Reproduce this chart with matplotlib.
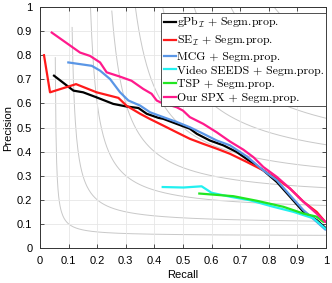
import matplotlib
matplotlib.use('Agg')
import matplotlib.pyplot as plt
import numpy as np

plt.rcParams.update({
    "font.family": "Liberation Sans",
    "mathtext.fontset": "cm",
})

# recall / precision
gpb_r = [0.049, 0.117, 0.151, 0.198, 0.256, 0.303, 0.344, 0.373, 0.414, 0.431, 0.478, 0.524, 0.548, 0.594, 0.641, 0.688, 0.734, 0.781, 0.828, 0.874, 0.921, 0.967, 1.0]
gpb_p = [0.715, 0.653, 0.646, 0.625, 0.598, 0.587, 0.581, 0.557, 0.540, 0.536, 0.515, 0.495, 0.474, 0.446, 0.426, 0.398, 0.360, 0.322, 0.274, 0.213, 0.150, 0.116, 0.081]

se_r = [0.014, 0.035, 0.126, 0.198, 0.274, 0.303, 0.350, 0.385, 0.431, 0.478, 0.524, 0.571, 0.618, 0.664, 0.723, 0.781, 0.828, 0.874, 0.921, 0.967, 0.997]
se_p = [0.800, 0.646, 0.680, 0.646, 0.623, 0.590, 0.557, 0.535, 0.508, 0.480, 0.453, 0.432, 0.412, 0.391, 0.357, 0.322, 0.288, 0.247, 0.192, 0.150, 0.109]

mcg_r = [0.099, 0.181, 0.210, 0.245, 0.280, 0.309, 0.350, 0.385, 0.431, 0.478, 0.524, 0.571, 0.618, 0.664, 0.723, 0.781, 0.828, 0.874, 0.921, 0.967, 0.997]
mcg_p = [0.770, 0.756, 0.736, 0.701, 0.646, 0.612, 0.591, 0.563, 0.543, 0.523, 0.501, 0.474, 0.446, 0.426, 0.380, 0.322, 0.281, 0.219, 0.157, 0.109, 0.077]

seeds_r = [0.429, 0.501, 0.565, 0.600, 0.664, 0.734, 0.816, 0.886, 0.956, 0.997]
seeds_p = [0.253, 0.251, 0.256, 0.229, 0.213, 0.198, 0.171, 0.150, 0.123, 0.081]

tsp_r = [0.557, 0.676, 0.758, 0.851, 0.921, 0.967, 0.990]
tsp_p = [0.226, 0.215, 0.196, 0.171, 0.143, 0.130, 0.109]

spx_r = [0.041, 0.140, 0.175, 0.210, 0.233, 0.280, 0.320, 0.361, 0.390, 0.408, 0.420, 0.478, 0.500, 0.524, 0.571, 0.618, 0.664, 0.711, 0.746, 0.781, 0.828, 0.874, 0.921, 0.967, 0.997]
spx_p = [0.894, 0.811, 0.797, 0.770, 0.729, 0.711, 0.694, 0.660, 0.640, 0.612, 0.605, 0.584, 0.570, 0.543, 0.515, 0.480, 0.442, 0.408, 0.377, 0.336, 0.295, 0.247, 0.192, 0.143, 0.109]

iso_f = [0.1, 0.2, 0.3, 0.4, 0.5, 0.6, 0.7, 0.8, 0.9]

series = [
    (gpb_r, gpb_p, 'black', r'gPb$_\mathcal{I}$ + Segm.prop.'),
    (se_r, se_p, '#ff1a1a', r'SE$_\mathcal{I}$ + Segm.prop.'),
    (mcg_r, mcg_p, '#5a96e6', 'MCG + Segm.prop.'),
    (seeds_r, seeds_p, '#22f0f0', 'Video SEEDS + Segm.prop.'),
    (tsp_r, tsp_p, '#22e622', 'TSP + Segm.prop.'),
    (spx_r, spx_p, '#ff1a8c', 'Our SPX + Segm.prop.'),
]

fig = plt.figure(figsize=(3.32, 2.83), dpi=100)
ax = fig.add_axes([0.1205, 0.1237, 0.8615, 0.8515])

for f in iso_f:
    r = np.linspace(f / 2 + 0.001, 1, 400)
    p = f * r / (2 * r - f)
    ok = p <= 1.01
    ax.plot(r[ok], p[ok], color='#c8c8c8', lw=0.7, zorder=1)

for r, p, c, lab in series:
    ax.plot(r, p, color=c, lw=1.6, label=lab, zorder=3)

ax.set_xlim(0, 1)
ax.set_ylim(0, 1)
ax.set_xticks(np.arange(0, 1.01, 0.1))
ax.set_yticks(np.arange(0, 1.01, 0.1))
ax.set_xticklabels(['0', '0.1', '0.2', '0.3', '0.4', '0.5', '0.6', '0.7', '0.8', '0.9', '1'])
ax.set_yticklabels(['0', '0.1', '0.2', '0.3', '0.4', '0.5', '0.6', '0.7', '0.8', '0.9', '1'])
ax.grid(True, color='#e6e6e6', lw=0.6, zorder=0)
ax.tick_params(direction='in', length=3, width=0.6, labelsize=8, top=True, right=True, color='#333333', pad=5.5)
for s in ax.spines.values():
    s.set_color('#333333')
    s.set_linewidth(0.7)
ax.set_xlabel('Recall', fontsize=8, labelpad=3)
ax.set_ylabel('Precision', fontsize=8, labelpad=3)

leg = ax.legend(loc='upper right', bbox_to_anchor=(1.0, 0.975), prop={'family': 'cmr10', 'size': 8.5},
                handlelength=1.0, handletextpad=0.1, labelspacing=0.3,
                borderpad=0.2, borderaxespad=0.0, fancybox=False, framealpha=1,
                edgecolor='#333333')
leg.get_frame().set_linewidth(0.6)

fig.savefig('out.png', dpi=100)
